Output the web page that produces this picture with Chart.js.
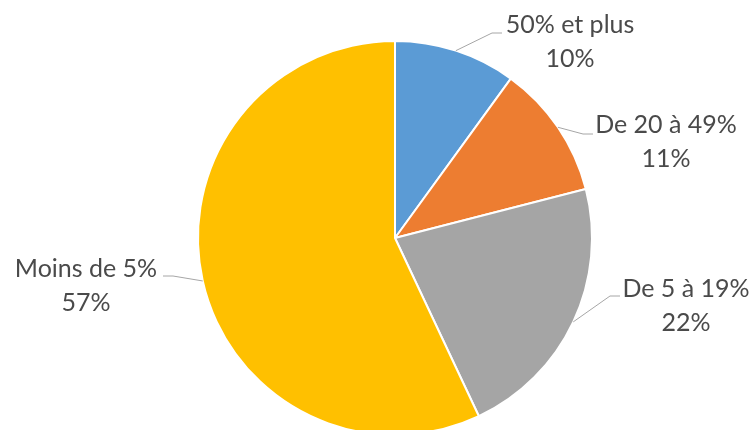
<!DOCTYPE html>
<html>
<head>
<meta charset="utf-8">
<script src="https://cdn.jsdelivr.net/npm/chart.js@4"></script>
<style>
  html, body { margin: 0; padding: 0; background: #fff; overflow: hidden; }
  #wrap { width: 753px; height: 440px; }
</style>
</head>
<body>
<div id="wrap"><canvas id="pieChart" width="753" height="440"></canvas></div>
<script>
const categories = ["50% et plus", "De 20 à 49%", "De 5 à 19%", "Moins de 5%"];
const shares = [10, 11, 22, 57];
const sliceColors = ["#5B9BD5", "#ED7D31", "#A5A5A5", "#FFC000"];

// leader elbow / end points and text anchors (center x, first baseline)
const callouts = [
  { elbow: [492, 33], end: [502, 33], text: [570, 33] },
  { elbow: [583, 134], end: [593, 134], text: [666, 133] },
  { elbow: [610, 296], end: [620, 296], text: [686, 297] },
  { elbow: [173, 276], end: [163, 276], text: [86, 277] }
];

const leaderLabels = {
  id: "leaderLabels",
  afterDatasetsDraw(chart) {
    const ctx = chart.ctx;
    const arcs = chart.getDatasetMeta(0).data;
    ctx.save();
    arcs.forEach((arc, i) => {
      const mid = (arc.startAngle + arc.endAngle) / 2;
      const sx = arc.x + Math.cos(mid) * arc.outerRadius;
      const sy = arc.y + Math.sin(mid) * arc.outerRadius;
      const c = callouts[i];
      ctx.strokeStyle = "#A6A6A6";
      ctx.lineWidth = 1;
      ctx.beginPath();
      ctx.moveTo(sx, sy);
      ctx.lineTo(c.elbow[0], c.elbow[1]);
      ctx.lineTo(c.end[0], c.end[1]);
      ctx.stroke();

      ctx.fillStyle = "#4a4a4a";
      ctx.font = "25px Lato";
      ctx.textAlign = "center";
      ctx.textBaseline = "alphabetic";
      ctx.fillText(categories[i], c.text[0], c.text[1]);
      ctx.fillText(shares[i] + "%", c.text[0], c.text[1] + 34);
    });
    ctx.restore();
  }
};

const ctx = document.getElementById("pieChart").getContext("2d");
new Chart(ctx, {
  type: "pie",
  data: {
    labels: categories,
    datasets: [{
      data: shares,
      backgroundColor: sliceColors,
      borderColor: "#ffffff",
      borderWidth: 2,
      hoverOffset: 0
    }]
  },
  options: {
    responsive: false,
    animation: false,
    layout: { padding: { left: 197, right: 160, top: 40, bottom: 4 } },
    plugins: {
      legend: { display: false },
      tooltip: { enabled: false }
    }
  },
  plugins: [leaderLabels]
});
</script>
</body>
</html>
